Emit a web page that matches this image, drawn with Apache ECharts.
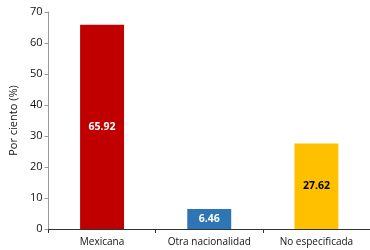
<!DOCTYPE html>
<html>
<head>
<meta charset="utf-8">
<script src="https://cdn.jsdelivr.net/npm/echarts@6/dist/echarts.min.js"></script>
<style>
  html, body { margin: 0; padding: 0; background: #fff; }
  #chart { width: 370px; height: 250px; }
</style>
</head>
<body>
<div id="chart"></div>
<script>
const categories = ['Mexicana', 'Otra nacionalidad', 'No especificada']
const values = [65.92, 6.46, 27.62]
const barColors = ['#C00000', '#2E75B6', '#FFC000']
const labelColors = ['#fff', '#fff', '#000']

const chart = echarts.init(document.getElementById('chart'))

chart.setOption({
  animation: false,
  textStyle: { fontFamily: 'Open Sans' },
  grid: {
    left: 45,
    right: 0,
    top: 12,
    bottom: 21
  },
  xAxis: {
    type: 'category',
    data: categories,
    axisLine: { lineStyle: { color: '#333' } },
    axisTick: { show: true, alignWithLabel: false, length: 4, lineStyle: { color: '#333' } },
    axisLabel: { color: '#111', fontSize: 10, margin: 8, interval: 0 }
  },
  yAxis: {
    type: 'value',
    min: 0,
    max: 70,
    interval: 10,
    name: 'Por ciento (%)',
    nameLocation: 'middle',
    nameGap: 29,
    nameTextStyle: { color: '#111', fontSize: 11 },
    axisLine: { show: true, lineStyle: { color: '#999' } },
    axisTick: { show: true, length: 4, lineStyle: { color: '#999' } },
    axisLabel: { color: '#111', fontSize: 11, margin: 6 },
    splitLine: { show: false }
  },
  series: [{
    type: 'bar',
    barWidth: '41%',
    data: values.map((v, i) => ({
      value: v,
      itemStyle: { color: barColors[i] },
      label: { color: labelColors[i] }
    })),
    label: {
      show: true,
      position: 'inside',
      fontWeight: 'bold',
      fontSize: 10.5,
      formatter: p => p.value.toFixed(2)
    }
  }]
})
</script>
</body>
</html>
